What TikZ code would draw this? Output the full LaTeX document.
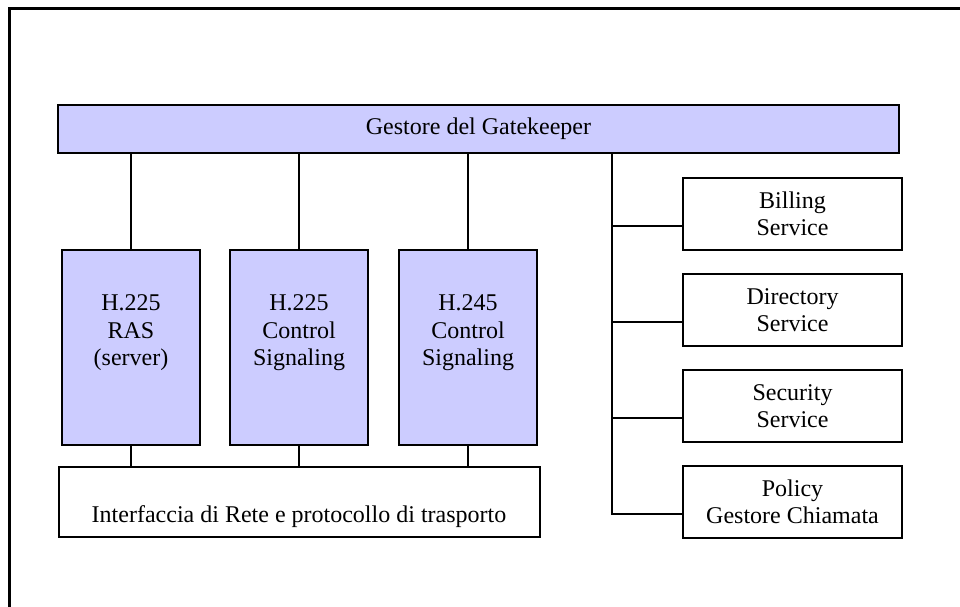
\documentclass[tikz,border=0pt]{standalone}
\usepackage{fontspec}
\setmainfont{Liberation Serif}
\definecolor{gkblue}{RGB}{204,204,255}
\tikzset{
  protobox/.style={draw,line width=1.5pt,fill=gkblue,inner sep=0pt,minimum width=138pt,minimum height=195pt},
  servbox/.style={draw,line width=1.5pt,fill=white,align=center,inner sep=0pt,minimum width=219pt,minimum height=72pt},
  lbl/.style={align=center,inner sep=0pt}
}
\begin{document}
\begin{tikzpicture}[x=1pt,y=-1pt,line width=1.3pt,font=\fontsize{24}{27.5}\selectfont]
  \useasboundingbox (0,0) rectangle (960,607);
  \draw[line width=2.2pt] (9.5,620) -- (9.5,8.5) -- (970,8.5);

  \node[draw,line width=1.5pt,fill=gkblue,minimum width=841pt,minimum height=48pt,inner sep=0pt](gk) at (478.5,129) {Gestore del Gatekeeper};

  \node[protobox](ras) at (131,347.5) {};
  \node[protobox](cs225) at (299,347.5) {};
  \node[protobox](cs245) at (468,347.5) {};
  \node[lbl](rast) at (131,333) {H.225\\RAS\\(server)};
  \node[lbl](cs225t) at (299,333) {H.225\\Control\\Signaling};
  \node[lbl](cs245t) at (468,333) {H.245\\Control\\Signaling};

  \node[draw,line width=1.5pt,minimum width=481pt,minimum height=70pt,inner sep=0pt](net) at (299.5,502) {};
  \node[lbl](nett) at (299,517) {Interfaccia di Rete e protocollo di trasporto};

  \node[servbox](bill) at (792.5,214) {Billing\\Service};
  \node[servbox](dir) at (792.5,310) {Directory\\Service};
  \node[servbox](sec) at (792.5,406) {Security\\Service};
  \node[servbox](pol) at (792.5,502) {Policy\\Gestore Chiamata};

  \draw (gk.south -| ras) -- (ras.north);
  \draw (gk.south -| cs225) -- (cs225.north);
  \draw (gk.south -| cs245) -- (cs245.north);
  \draw (ras.south) -- (net.north -| ras);
  \draw (cs225.south) -- (net.north -| cs225);
  \draw (cs245.south) -- (net.north -| cs245);

  \coordinate (top) at (612,153);
  \coordinate (tb) at (612,226);
  \coordinate (td) at (612,322);
  \coordinate (ts) at (612,418);
  \coordinate (tp) at (612,514);
  \draw (top) -- (tp) -- (tp -| pol.west);
  \draw (tb) -- (tb -| bill.west);
  \draw (td) -- (td -| dir.west);
  \draw (ts) -- (ts -| sec.west);
\end{tikzpicture}
\end{document}
